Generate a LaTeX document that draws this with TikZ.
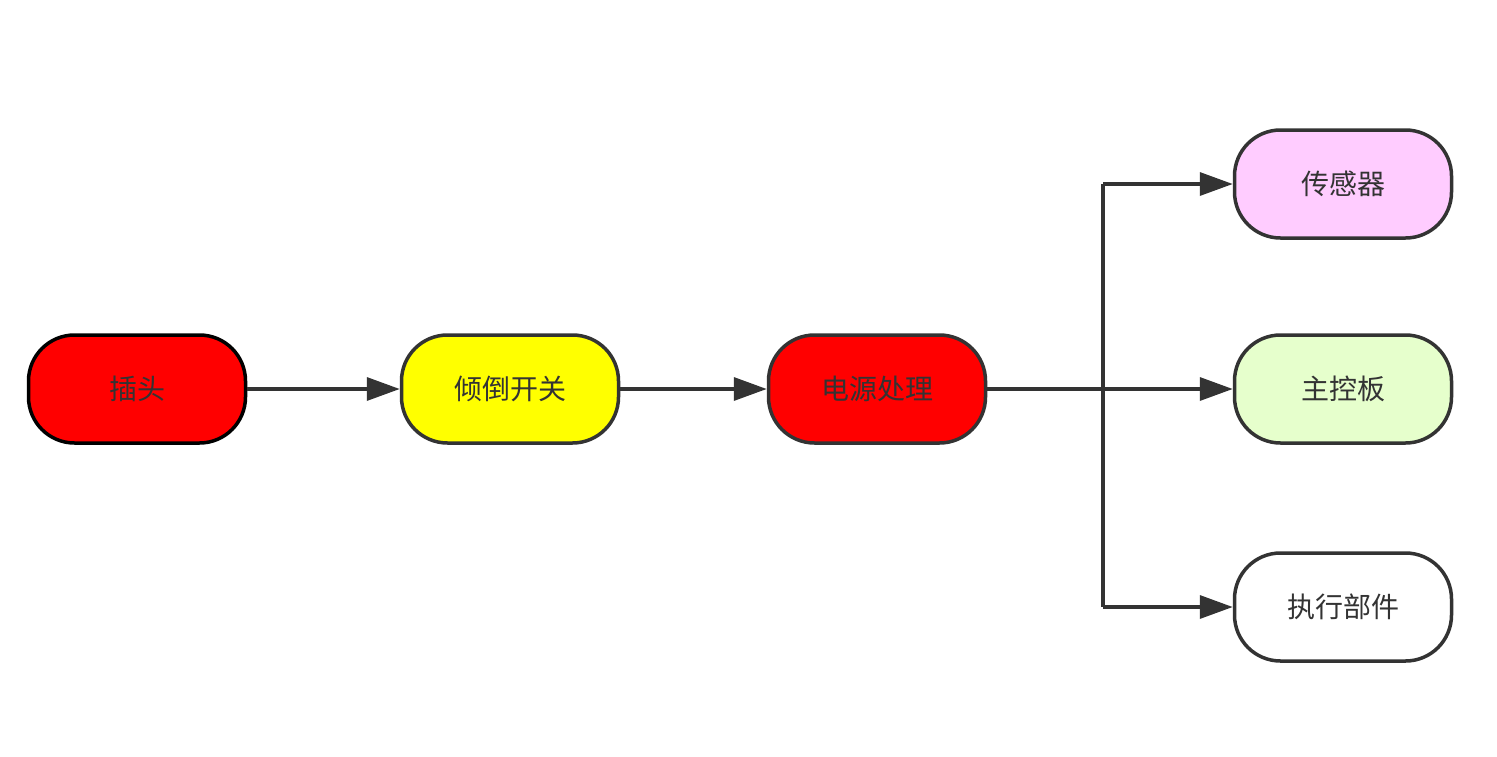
\documentclass[tikz,border=0pt]{standalone}
\usepackage{fontspec}
\setmainfont{Noto Sans CJK SC}
\usetikzlibrary{arrows.meta,positioning}
\definecolor{FlowLine}{RGB}{51,51,51}
\definecolor{FlowRed}{RGB}{255,0,0}
\definecolor{FlowYellow}{RGB}{255,255,0}
\definecolor{FlowPink}{RGB}{255,204,255}
\definecolor{FlowGreen}{RGB}{230,255,204}

\begin{document}
\begin{tikzpicture}[
    x=1pt,y=-1pt,
    box/.style={draw=FlowLine,line width=3.5pt,rounded corners=46pt,minimum height=108pt,minimum width=217pt,align=center,text=FlowLine,font=\fontsize{28}{32}\selectfont},
    arr/.style={-{Triangle[length=33pt,width=23pt]},line width=3.5pt,draw=FlowLine}
  ]
    \useasboundingbox (0,0) rectangle (1497,756);
    \node[box,fill=FlowRed,draw=black] (plug) at (137,389) {插头};
    \node[box,fill=FlowYellow] (tilt) at (510,389) {倾倒开关};
    \node[box,fill=FlowRed] (power) at (877,389) {电源处理};
    \node[box,fill=FlowPink] (sensor) at (1343,184) {传感器};
    \node[box,fill=FlowGreen] (board) at (1343,389) {主控板};
    \node[box,fill=white] (actuator) at (1343,607) {执行部件};
    \coordinate (split) at (1103,389);
    \coordinate (splittop) at (1103,184);
    \coordinate (splitbot) at (1103,607);
    \draw[arr] (plug) -- (tilt);
    \draw[arr] (tilt) -- (power);
    \draw[arr] (power) -- (board);
    \draw[line width=3.5pt,draw=FlowLine] (splittop) -- (splitbot);
    \draw[arr] (splittop) -- (sensor);
    \draw[arr] (splitbot) -- (actuator);
  \end{tikzpicture}
\end{document}
